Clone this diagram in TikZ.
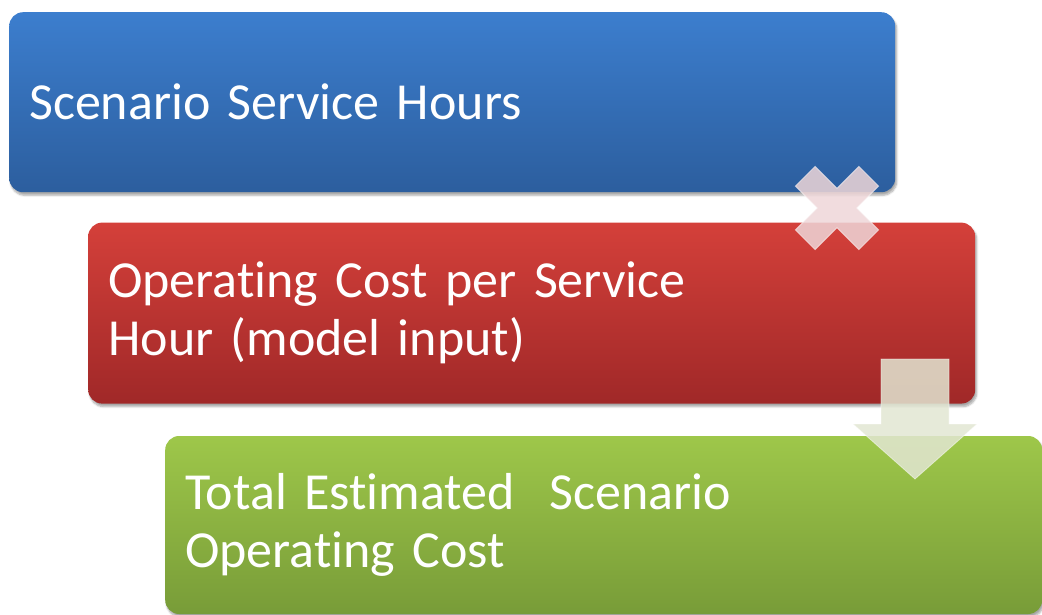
\documentclass[tikz,border=0pt]{standalone}
\usepackage{fontspec}
\setmainfont{Carlito}[Ligatures=NoCommon]
\usetikzlibrary{positioning,shadows.blur}

\definecolor{hoursTop}{RGB}{60,126,206}
\definecolor{hoursBot}{RGB}{44,94,158}
\definecolor{costTop}{RGB}{212,64,58}
\definecolor{costBot}{RGB}{160,40,40}
\definecolor{totalTop}{RGB}{158,199,74}
\definecolor{totalBot}{RGB}{120,156,56}
\definecolor{markFill}{RGB}{238,214,216}
\definecolor{arrowFill}{RGB}{226,230,210}

\begin{document}
\begin{tikzpicture}[x=1pt, y=-1pt,
  stage/.style={rectangle, rounded corners=14pt, minimum height=180pt, inner xsep=20pt, inner ysep=0pt, text=white, align=left, font=\fontsize{52}{58}\selectfont, blur shadow={shadow xshift=1.5pt, shadow yshift=-3pt, shadow blur steps=6, shadow opacity=35}},
  overlay shape/.style={fill=#1, fill opacity=0.85, draw=white, draw opacity=0.5, line width=0.8pt}
]
\useasboundingbox (0,0) rectangle (1042,615);

\node (hours) [stage, anchor=north west, text width=846pt, top color=hoursTop, bottom color=hoursBot] at (9,12) {Scenario Service Hours};

\node (cost) [stage, below right=30pt and 79pt of hours.south west, minimum height=181pt, text width=847pt, top color=costTop, bottom color=costBot] {Operating Cost per Service\\Hour (model input)};

\node (total) [stage, below right=32pt and 77pt of cost.south west, minimum height=178pt, text width=837pt, top color=totalTop, bottom color=totalBot] {Total Estimated\ \ Scenario\\Operating Cost};

% times sign between the first two boxes
\begin{scope}[shift={(837,208)}, rotate=45]
\draw[overlay shape=markFill] (-14,-45) -- (14,-45) -- (14,-14) -- (45,-14) -- (45,14) -- (14,14) -- (14,45) -- (-14,45) -- (-14,14) -- (-45,14) -- (-45,-14) -- (-14,-14) -- cycle;
\end{scope}

% down arrow into the total
\draw[overlay shape=arrowFill] (881,359) -- (949,359) -- (949,424) -- (977,424) -- (915,479) -- (853,424) -- (881,424) -- cycle;

\end{tikzpicture}
\end{document}
